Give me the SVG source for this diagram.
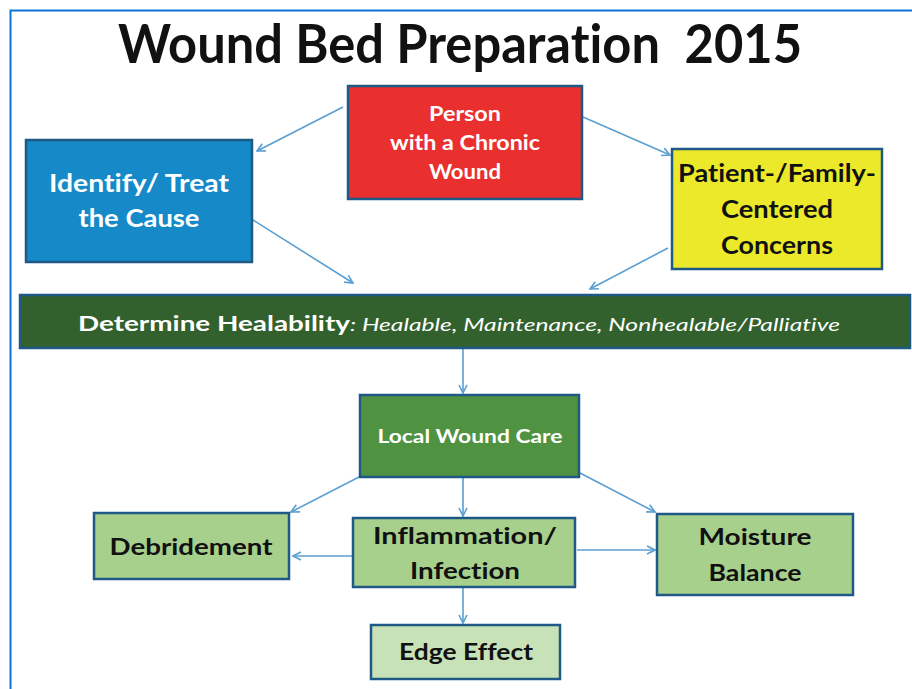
<svg xmlns="http://www.w3.org/2000/svg" width="912" height="689" viewBox="0 0 912 689">
<style>
text{font-variant-ligatures:none}
.box{stroke:#1f5a86;stroke-width:2.5}
.t{font-family:Lato,"Open Sans","Liberation Sans",sans-serif;font-weight:bold;text-anchor:middle}
.w{fill:#ffffff}
.k{fill:#111111}
.c{fill:none;stroke:#5a9fd2;stroke-width:1.6}
</style>
<defs>
<marker id="ah" viewBox="0 0 10 10" refX="9" refY="5" markerWidth="10" markerHeight="10" markerUnits="userSpaceOnUse" orient="auto">
<polyline points="1,1 9,5 1,9" fill="none" stroke="#5a9fd2" stroke-width="1.6"/>
</marker>
</defs>
<rect width="912" height="689" fill="#ffffff"/>
<path d="M10.5 689 V10.5 H912" fill="none" stroke="#0a74d4" stroke-width="2"/>
<text x="460" y="63" class="t k" font-size="53" textLength="684" lengthAdjust="spacingAndGlyphs" xml:space="preserve" style="white-space:pre">Wound Bed Preparation  2015</text>

<g id="connectors">
<line class="c" x1="343" y1="107" x2="257" y2="151" marker-end="url(#ah)"/>
<line class="c" x1="583" y1="117" x2="670" y2="155" marker-end="url(#ah)"/>
<line class="c" x1="253" y1="220" x2="353" y2="283" marker-end="url(#ah)"/>
<line class="c" x1="668" y1="248" x2="590" y2="289" marker-end="url(#ah)"/>
<line class="c" x1="463" y1="349" x2="463" y2="393" marker-end="url(#ah)"/>
<line class="c" x1="359" y1="477" x2="291" y2="512" marker-end="url(#ah)"/>
<line class="c" x1="463" y1="478" x2="463" y2="516" marker-end="url(#ah)"/>
<line class="c" x1="580" y1="473" x2="655" y2="512" marker-end="url(#ah)"/>
<line class="c" x1="352" y1="556" x2="293" y2="556" marker-end="url(#ah)"/>
<line class="c" x1="577" y1="550" x2="655" y2="550" marker-end="url(#ah)"/>
<line class="c" x1="463" y1="588" x2="463" y2="623" marker-end="url(#ah)"/>
</g>

<g id="person">
<rect class="box" x="348" y="86" width="234" height="113" fill="#e9302f"/>
<text class="t w" font-size="20" x="465" y="121" textLength="72" lengthAdjust="spacingAndGlyphs">Person</text>
<text class="t w" font-size="20" x="465" y="150" textLength="150" lengthAdjust="spacingAndGlyphs">with a Chronic</text>
<text class="t w" font-size="20" x="465" y="179" textLength="72" lengthAdjust="spacingAndGlyphs">Wound</text>
</g>

<g id="identify">
<rect class="box" x="26" y="140" width="226" height="122" fill="#168ac8"/>
<text class="t w" font-size="25" x="139" y="192" textLength="180" lengthAdjust="spacingAndGlyphs">Identify/ Treat</text>
<text class="t w" font-size="25" x="139" y="227" textLength="121" lengthAdjust="spacingAndGlyphs">the Cause</text>
</g>

<g id="patient">
<rect class="box" x="672" y="149" width="210" height="120" fill="#ece92a"/>
<text class="t k" font-size="25" x="777" y="182" textLength="198" lengthAdjust="spacingAndGlyphs">Patient-/Family-</text>
<text class="t k" font-size="25" x="777" y="218" textLength="112" lengthAdjust="spacingAndGlyphs">Centered</text>
<text class="t k" font-size="25" x="777" y="254" textLength="112" lengthAdjust="spacingAndGlyphs">Concerns</text>
</g>

<g id="healability">
<rect class="box" x="20" y="295" width="890" height="53" fill="#32612d"/>
<text x="78" y="331" font-family="Lato,'Open Sans','Liberation Sans',sans-serif" fill="#ffffff"><tspan font-weight="bold" font-size="20" textLength="272" lengthAdjust="spacingAndGlyphs">Determine Healability</tspan><tspan font-style="italic" font-size="17" textLength="490" lengthAdjust="spacingAndGlyphs">: Healable, Maintenance, Nonhealable/Palliative</tspan></text>
</g>

<g id="local">
<rect class="box" x="360" y="395" width="219" height="82" fill="#4f9342"/>
<text class="t w" font-size="18" x="470" y="443" textLength="185" lengthAdjust="spacingAndGlyphs">Local Wound Care</text>
</g>

<g id="debridement">
<rect class="box" x="94" y="513" width="195" height="66" fill="#a8d08d"/>
<text class="t k" font-size="22" x="191" y="555" textLength="163" lengthAdjust="spacingAndGlyphs">Debridement</text>
</g>

<g id="inflammation">
<rect class="box" x="353" y="518" width="222" height="69" fill="#a8d08d"/>
<text class="t k" font-size="23" x="465" y="544" textLength="184" lengthAdjust="spacingAndGlyphs">Inflammation/</text>
<text class="t k" font-size="23" x="465" y="579" textLength="110" lengthAdjust="spacingAndGlyphs">Infection</text>
</g>

<g id="moisture">
<rect class="box" x="657" y="514" width="196" height="81" fill="#a8d08d"/>
<text class="t k" font-size="23" x="755" y="545" textLength="113" lengthAdjust="spacingAndGlyphs">Moisture</text>
<text class="t k" font-size="23" x="755" y="581" textLength="93" lengthAdjust="spacingAndGlyphs">Balance</text>
</g>

<g id="edge">
<rect class="box" x="371" y="625" width="189" height="54" fill="#c6e2b6"/>
<text class="t k" font-size="22" x="466" y="660" textLength="134" lengthAdjust="spacingAndGlyphs">Edge Effect</text>
</g>
</svg>
